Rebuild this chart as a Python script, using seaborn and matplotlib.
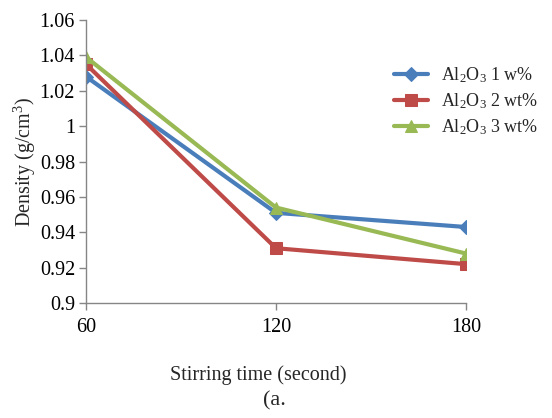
import matplotlib
matplotlib.use("Agg")
import matplotlib.pyplot as plt
import seaborn as sns
import pandas as pd

times = [60, 120, 180]
series_names = ["Al$_2$O$_3$ 1 w%", "Al$_2$O$_3$ 2 wt%", "Al$_2$O$_3$ 3 wt%"]
density_1 = [1.028, 0.951, 0.943]
density_2 = [1.035, 0.931, 0.922]
density_3 = [1.039, 0.954, 0.928]
yticks = [0.9, 0.92, 0.94, 0.96, 0.98, 1.0, 1.02, 1.04, 1.06]
ytick_labels = ["0.9", "0.92", "0.94", "0.96", "0.98", "1", "1.02", "1.04", "1.06"]

sns.set_style("white")
plt.rcParams["font.family"] = ["Liberation Serif", "DejaVu Serif"]
plt.rcParams["mathtext.fontset"] = "custom"
plt.rcParams["mathtext.rm"] = "Liberation Serif"
plt.rcParams["mathtext.it"] = "Liberation Serif"

df = pd.DataFrame({
    "time": times * 3,
    "density": density_1 + density_2 + density_3,
    "series": [series_names[0]] * 3 + [series_names[1]] * 3 + [series_names[2]] * 3,
})

colors = ["#4A7EBB", "#BE4B48", "#98B954"]
markers = ["D", "s", "^"]
sizes = [7, 9, 9]

fig = plt.figure(figsize=(5.52, 4.18), dpi=100)
ax = fig.add_axes([0.156, 0.275, 0.688, 0.677])
for name, c, m, s in zip(series_names, colors, markers, sizes):
    sub = df[df["series"] == name]
    sns.lineplot(data=sub, x="time", y="density", ax=ax, color=c, marker=m,
                 markersize=s, markeredgecolor=c, linewidth=3, label=name)

ax.set_xlim(60, 180)
ax.set_ylim(0.9, 1.06)
ax.set_xticks(times)
ax.set_xticklabels([str(t) for t in times], fontsize=14.5)
ax.set_yticks(yticks)
ax.set_yticklabels(ytick_labels, fontsize=14.5)
ax.set_xlabel("")
ax.set_ylabel("Density (g/cm$^3$)", fontsize=14.5, labelpad=1)
for sp in ["top", "right"]:
    ax.spines[sp].set_visible(False)
for sp in ["left", "bottom"]:
    ax.spines[sp].set_color("#868686")
    ax.spines[sp].set_linewidth(1)
ax.tick_params(axis="both", which="both", direction="out", length=5, width=1,
               color="#868686", left=True, bottom=True, pad=3)
ax.tick_params(axis="x", pad=6)
for lab in ax.get_xticklabels() + ax.get_yticklabels():
    lab.set_color("black")

leg = ax.legend(loc="upper left", bbox_to_anchor=(0.81, 0.84), frameon=False,
                fontsize=13, handlelength=1.9, labelspacing=0.35,
                handletextpad=0.7, borderaxespad=0, borderpad=0)
fig.text(0.467, 0.103, "Stirring time (second)", ha="center", va="center", fontsize=14.5)
fig.text(0.498, 0.040, "(a.", ha="center", va="center", fontsize=16)

fig.savefig("out.png", dpi=100)
